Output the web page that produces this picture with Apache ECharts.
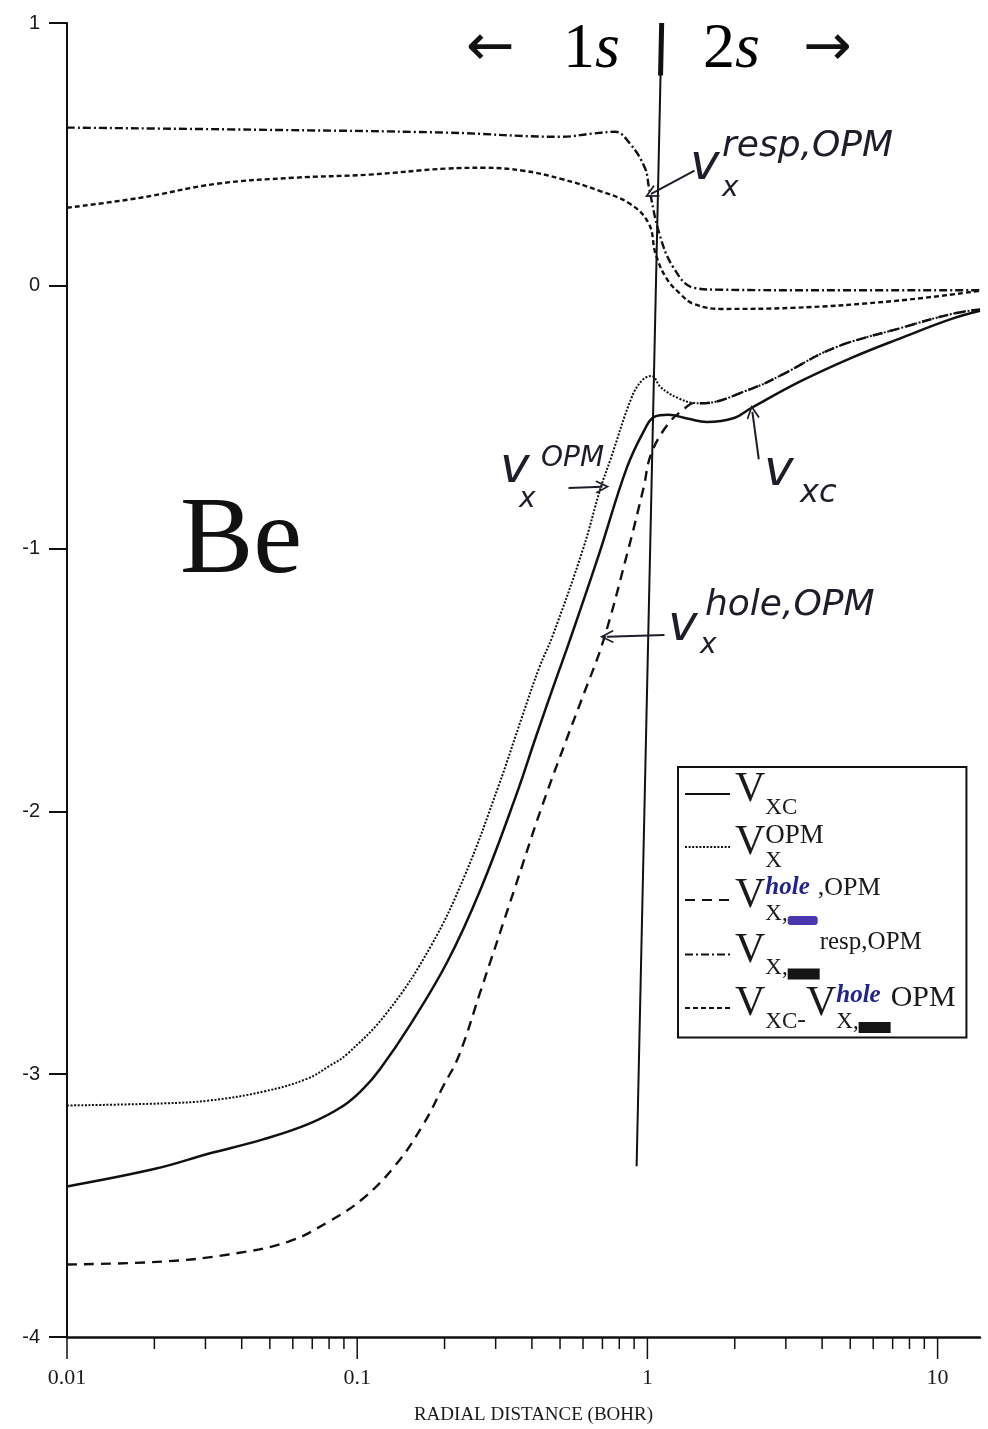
<!DOCTYPE html>
<html>
<head>
<meta charset="utf-8">
<script src="https://cdn.jsdelivr.net/npm/echarts@6/dist/echarts.min.js"></script>
<style>
  html, body { margin: 0; padding: 0; background: #fff; }
  #chart { width: 988px; height: 1429px; }
</style>
</head>
<body>
<div id="chart"></div>
<script>
// Be atom: exchange / correlation potentials against radial distance (bohr)

// v_xc
const vxcR = [0.01, 0.0203, 0.0309, 0.0474, 0.0684, 0.0896, 0.105, 0.1196, 0.152, 0.2047, 0.2667, 0.3516, 0.413, 0.4849, 0.5383, 0.681, 0.849, 0.973, 1.056, 1.18, 1.383, 1.6, 1.99, 2.28, 3.39, 5.05, 7.51, 11.17, 14];
const vxcV = [-3.427, -3.359, -3.302, -3.248, -3.188, -3.120, -3.055, -2.982, -2.813, -2.571, -2.294, -1.944, -1.716, -1.495, -1.354, -1.022, -0.693, -0.552, -0.499, -0.491, -0.506, -0.518, -0.503, -0.465, -0.362, -0.274, -0.198, -0.126, -0.095];

// v_x^OPM
const vxOpmR = [0.01, 0.0215, 0.031, 0.0476, 0.067, 0.0804, 0.092, 0.1268, 0.1789, 0.235, 0.307, 0.370, 0.424, 0.471, 0.600, 0.690, 0.747, 0.879, 0.955, 1.031, 1.116, 1.275, 1.447, 1.53, 2.28, 2.89, 4.41, 7.5, 11.2, 14];
const vxOpmV = [-3.119, -3.111, -3.100, -3.066, -3.018, -2.968, -2.925, -2.765, -2.515, -2.243, -1.903, -1.640, -1.453, -1.333, -1.002, -0.769, -0.659, -0.430, -0.362, -0.343, -0.388, -0.427, -0.446, -0.447, -0.392, -0.340, -0.236, -0.160, -0.107, -0.09];

// v_x^hole,OPM
const vxHoleR = [0.01, 0.0213, 0.036, 0.058, 0.0797, 0.1045, 0.136, 0.169, 0.198, 0.224, 0.265, 0.349, 0.431, 0.5236, 0.596, 0.705, 0.851, 0.970, 1.03, 1.178, 1.34, 1.447, 1.53, 2.28, 2.89, 4.41, 7.5, 11.2, 14];
const vxHoleV = [-3.724, -3.713, -3.686, -3.637, -3.561, -3.474, -3.344, -3.191, -3.045, -2.930, -2.690, -2.293, -1.988, -1.733, -1.569, -1.35, -1.021, -0.769, -0.64, -0.526, -0.468, -0.446, -0.447, -0.392, -0.340, -0.236, -0.160, -0.107, -0.09];

// v_x^resp,OPM
const vxRespR = [0.01, 0.0441, 0.2024, 0.504, 0.644, 0.773, 0.871, 0.98, 1.013, 1.10, 1.23, 1.448, 1.81, 4, 14];
const vxRespV = [0.602, 0.594, 0.583, 0.567, 0.579, 0.586, 0.541, 0.449, 0.373, 0.198, 0.069, -0.008, -0.015, -0.017, -0.017];

// v_xc - v_x^hole,OPM
const vxcMinusHoleR = [0.01, 0.0179, 0.0327, 0.0602, 0.110, 0.2025, 0.274, 0.373, 0.504, 0.681, 0.871, 1.012, 1.067, 1.161, 1.295, 1.444, 1.80, 3.14, 7.2, 14];
const vxcMinusHoleV = [0.297, 0.335, 0.388, 0.411, 0.423, 0.446, 0.449, 0.438, 0.407, 0.362, 0.312, 0.236, 0.122, 0.030, -0.030, -0.069, -0.088, -0.084, -0.057, -0.019];

// 1s | 2s shell boundary (hand-drawn, slightly slanted)
const shellLineR = [1.12, 0.918];
const shellLineV = [1.0, -3.35];
const shellCapR = [1.12, 1.11];
const shellCapV = [1.0, 0.80];

// axes
const xTickLabels = [0.01, 0.1, 1, 10];
const xMinorTicks = [0.02, 0.03, 0.04, 0.05, 0.06, 0.07, 0.08, 0.09,
                     0.2, 0.3, 0.4, 0.5, 0.6, 0.7, 0.8, 0.9,
                     2, 3, 4, 5, 6, 7, 8, 9];
const xMin = 0.01, xMax = 14;
const yMin = -4, yMax = 1, yStep = 1;

// arrows of the handwritten notes: [from r, from v, to r, to v]
const noteArrows = [
  [1.453, 0.438, 1.03, 0.35],    // resp,OPM
  [0.535, -0.769, 0.70, -0.765], // OPM
  [2.42, -0.66, 2.3, -0.48],     // xc
  [1.145, -1.329, 0.725, -1.335] // hole,OPM
];

const zip = (xs, ys) => xs.map((x, i) => [x, ys[i]]);

const INK = '#111';
const PEN = '#1e1e2a';
const SERIF = '"Liberation Serif", "Times New Roman", serif';
const SANS = '"Liberation Sans", Arial, sans-serif';
const HAND = '"DejaVu Sans", sans-serif';

const names = ['Vxc', 'VxOPM', 'VxHoleOPM', 'VxRespOPM', 'VxcMinusVxHole'];
const legendText = {
  Vxc: '{V|V}{sb|XC}{h| }',
  VxOPM: '{V|V}{sp0|OPM}{sb|X}{h| }',
  VxHoleOPM: '{V|V}{hl0|hole}{sb|X,}{bxP| }{sp|,OPM}{h| }',
  VxRespOPM: '{V|V}{sb|X,}{bxK| }{sps|resp,OPM}{h| }',
  VxcMinusVxHole: '{V|V}{sb|XC}{mn|-}{V|V}{hl0|hole}{sb|X,}{bxK| }{spm|OPM}{h| }'
};

function curve(name, data, type, width) {
  return {
    name, type: 'line', data, symbol: 'none', smooth: 0.4,
    itemStyle: { color: INK },
    lineStyle: { color: INK, width, type }, z: 2, silent: true
  };
}

const arrowHead = 'path://M0,0 L7,11 L5.6,12 L0,3.2 L-5.6,12 L-7,11 Z';

const hand = (text, x, y, size) => ({
  type: 'text', x, y, silent: true,
  style: {
    text, fill: PEN, fontFamily: HAND, fontStyle: 'italic', fontSize: size,
    align: 'left', verticalAlign: 'middle'
  }
});

const serifRich = (size, lh, va, extra) => Object.assign(
  { fontFamily: SERIF, fontSize: size, lineHeight: lh, verticalAlign: va, color: '#1a1a1a' }, extra || {});

const option = {
  animation: false,
  backgroundColor: '#fff',
  grid: { left: 67, right: 8, top: 23, bottom: 92, containLabel: false, outerBoundsMode: 'none' },
  xAxis: {
    type: 'log', logBase: 10, min: xMin, max: xMax,
    axisLine: { onZero: false, lineStyle: { color: INK, width: 2.5 } },
    axisTick: { show: false },
    minorTick: { show: false },
    splitLine: { show: false },
    axisLabel: {
      margin: 30, color: '#1a1a1a', fontFamily: SERIF, fontSize: 22,
      formatter: v => {
        const hit = xTickLabels.find(t => Math.abs(Math.log10(v) - Math.log10(t)) < 1e-6);
        return hit !== undefined ? String(hit) : '';
      }
    },
    name: 'RADIAL DISTANCE (BOHR)', nameLocation: 'middle', nameGap: 69,
    nameTextStyle: { color: '#1a1a1a', fontFamily: SERIF, fontSize: 19, padding: [0, 0, 0, 20] }
  },
  yAxis: {
    type: 'value', min: yMin, max: yMax, interval: yStep,
    axisLine: { show: true, onZero: false, lineStyle: { color: INK, width: 2 } },
    axisTick: { show: true, inside: false, length: 18, lineStyle: { color: INK, width: 2 } },
    splitLine: { show: false },
    axisLabel: { margin: 27, color: '#1a1a1a', fontFamily: SANS, fontSize: 20 }
  },
  legend: {
    data: names, left: 678, top: 767, orient: 'vertical', align: 'left',
    itemWidth: 45, itemHeight: 14, itemGap: 3, padding: [2, 8, 4, 6],
    borderColor: INK, borderWidth: 2, backgroundColor: '#fff', selectedMode: false,
    itemStyle: { opacity: 0, borderWidth: 0 },
    formatter: name => legendText[name],
    textStyle: {
      color: '#1a1a1a',
      rich: {
        V: serifRich(42, 32, 'top'),
        sb: serifRich(23, 22, 'bottom'),
        sp: serifRich(26, 28, 'top'),
        sps: serifRich(25, 30, 'top'),
        spm: serifRich(30, 40, 'top'),
        sp0: serifRich(27, 28, 'top', { width: 0 }),
        hl0: serifRich(25, 24, 'top', { fontStyle: 'italic', fontWeight: 'bold', width: 0, color: '#23238f' }),
        mn: serifRich(26, 36, 'bottom'),
        bxP: { backgroundColor: '#4b36b0', borderRadius: 3, width: 30, height: 9, lineHeight: 16, verticalAlign: 'bottom' },
        bxK: { backgroundColor: '#151515', width: 32, height: 11, lineHeight: 16, verticalAlign: 'bottom' },
        h: { width: 0, lineHeight: 50, fontSize: 10 }
      }
    }
  },
  graphic: [
    // shell labels
    { type: 'text', x: 466, y: 50, silent: true,
      style: { text: '←', fill: INK, fontFamily: '"DejaVu Sans"', fontSize: 58, verticalAlign: 'middle' } },
    { type: 'text', x: 563, y: 50, silent: true,
      style: { text: '{n|1}{i|s}', verticalAlign: 'middle',
               rich: { n: { fontFamily: SERIF, fontSize: 64, color: INK },
                       i: { fontFamily: SERIF, fontStyle: 'italic', fontSize: 64, color: INK } } } },
    { type: 'text', x: 703, y: 50, silent: true,
      style: { text: '{n|2}{i|s}', verticalAlign: 'middle',
               rich: { n: { fontFamily: SERIF, fontSize: 64, color: INK },
                       i: { fontFamily: SERIF, fontStyle: 'italic', fontSize: 64, color: INK } } } },
    { type: 'text', x: 803, y: 50, silent: true,
      style: { text: '→', fill: INK, fontFamily: '"DejaVu Sans"', fontSize: 58, verticalAlign: 'middle' } },
    // element symbol
    { type: 'text', x: 180, y: 543, silent: true,
      style: { text: 'Be', fill: INK, fontFamily: SERIF, fontSize: 110, verticalAlign: 'middle' } },
    // handwritten notes
    hand('v', 690, 166, 50),
    hand('x', 722, 189, 28),
    hand('resp,OPM', 722, 147, 36),
    hand('v', 500, 469, 50),
    hand('OPM', 541, 459, 28),
    hand('x', 519, 500, 28),
    hand('v', 764, 472, 50),
    hand('xc', 800, 494, 32),
    hand('v', 668, 627, 50),
    hand('hole,OPM', 705, 606, 36),
    hand('x', 700, 646, 28)
  ],
  series: [
    curve('Vxc', zip(vxcR, vxcV), 'solid', 2.5),
    curve('VxOPM', zip(vxOpmR, vxOpmV), [2, 1.6], 2),
    curve('VxHoleOPM', zip(vxHoleR, vxHoleV), [10, 7], 2.4),
    curve('VxRespOPM', zip(vxRespR, vxRespV), [8, 3, 2, 3], 2.4),
    curve('VxcMinusVxHole', zip(vxcMinusHoleR, vxcMinusHoleV), [5, 3], 2.4),
    {
      name: 'shell', type: 'line', data: zip(shellLineR, shellLineV), symbol: 'none', silent: true,
      lineStyle: { color: INK, width: 2 }, z: 3,
      markLine: {
        silent: true, symbol: ['none', arrowHead], symbolSize: [13, 14],
        lineStyle: { color: PEN, width: 2, type: 'solid' },
        label: { show: false },
        data: noteArrows.map(a => [{ coord: [a[0], a[1]] }, { coord: [a[2], a[3]] }])
      }
    },
    {
      name: 'shellCap', type: 'line', data: zip(shellCapR, shellCapV), symbol: 'none', silent: true,
      lineStyle: { color: INK, width: 5 }, z: 3
    },
    {
      // major (labelled) and minor ticks of the log axis, hanging below the axis line
      name: 'xTicks', type: 'custom', silent: true, clip: false, z: 5,
      data: xTickLabels.map(v => [v, yMin, 22]).concat(xMinorTicks.map(v => [v, yMin, 12])),
      renderItem: (params, api) => {
        const p = api.coord([api.value(0), api.value(1)]);
        return { type: 'line', shape: { x1: p[0], y1: p[1], x2: p[0], y2: p[1] + api.value(2) },
                 style: { stroke: INK, lineWidth: 1.5 } };
      }
    }
  ]
};

const chart = echarts.init(document.getElementById('chart'), null, { renderer: 'canvas' });
chart.setOption(option);
</script>
</body>
</html>
